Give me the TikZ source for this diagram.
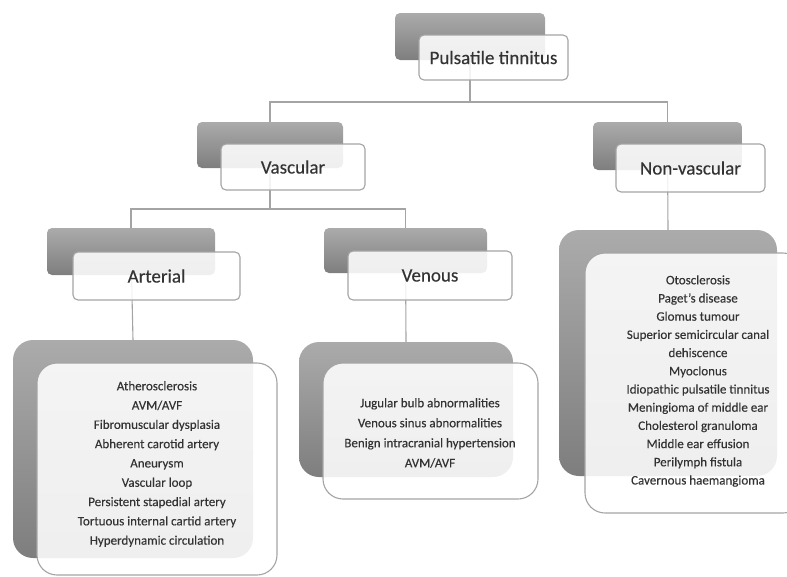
\documentclass[tikz,border=0pt]{standalone}
\usepackage{fontspec}
\setmainfont{Carlito}[FakeBold=0.25]
\usetikzlibrary{backgrounds}
\definecolor{txt}{HTML}{333333}
\definecolor{edge}{HTML}{A4A4A4}
\definecolor{gtop}{HTML}{ABABAB}
\definecolor{gbot}{HTML}{7E7E7E}
\tikzset{
  graybox/.style={rounded corners=5pt, top color=gtop, bottom color=gbot, inner sep=0pt},
  whitebox/.style={rounded corners=5pt, draw=edge, line width=1.1pt, fill=white, fill opacity=0.88, text opacity=1, inner sep=0pt, text=txt, font=\fontsize{19}{22}\selectfont},
  graylist/.style={graybox, rounded corners=20pt},
  whitelist/.style={whitebox, rounded corners=20pt},
  listtext/.style={text=txt, align=center, inner sep=0pt},
  conn/.style={draw=edge, line width=1.1pt},
}
\begin{document}
\begin{tikzpicture}[x=1pt,y=-1pt]
\useasboundingbox (0,0) rectangle (787,576);
% headers
\node[graybox, minimum width=150pt, minimum height=47pt] (ptg) at (470,36.5) {};
\node[whitebox, minimum width=149pt, minimum height=45pt] (ptw) at (493.5,57.5) {Pulsatile tinnitus};
\node[graybox, minimum width=146pt, minimum height=46pt] (vasg) at (270,145) {};
\node[whitebox, minimum width=144pt, minimum height=46pt] (vasw) at (293,167) {Vascular};
\node[graybox, minimum width=149pt, minimum height=48pt] (nvg) at (667.5,146) {};
\node[whitebox, minimum width=149pt, minimum height=48pt] (nvw) at (690.5,168) {Non-vascular};
\node[graybox, minimum width=168pt, minimum height=47pt] (artg) at (131,251.5) {};
\node[whitebox, minimum width=167pt, minimum height=48pt] (artw) at (156.5,276) {Arterial};
\node[graybox, minimum width=163pt, minimum height=45pt] (veng) at (405.5,250.5) {};
\node[whitebox, minimum width=164pt, minimum height=49pt] (venw) at (430,275.5) {Venous};
% lists
\node[graylist, minimum width=240pt, minimum height=218pt] (artlg) at (133,449) {};
\node[whitelist, minimum width=240pt, minimum height=212pt] (artlw) at (157,469) {};
\node[listtext, font=\fontsize{13}{19.3}\selectfont] (artt) at (157,464) {Atherosclerosis\\AVM/AVF\\Fibromuscular dysplasia\\Abherent carotid artery\\Aneurysm\\Vascular loop\\Persistent stapedial artery\\Tortuous internal cartid artery\\Hyperdynamic circulation};
\node[graylist, minimum width=214pt, minimum height=135pt] (venlg) at (406,409.5) {};
\node[whitelist, minimum width=215pt, minimum height=136pt] (venlw) at (430.5,431) {};
\node[listtext, font=\fontsize{13}{20}\selectfont] (vent) at (430,433) {Jugular bulb abnormalities\\Venous sinus abnormalities\\Benign intracranial hypertension\\AVM/AVF};
\node[graylist, minimum width=218pt, minimum height=246pt] (nvlg) at (668,353) {};
\node[whitelist, minimum width=218pt, minimum height=260pt] (nvlw) at (694,383) {};
\node[listtext, font=\fontsize{13}{18.2}\selectfont] (nvt) at (698,381) {Otosclerosis\\Paget’s disease\\Glomus tumour\\Superior semicircular canal\\dehiscence\\Myoclonus\\Idiopathic pulsatile tinnitus\\Meningioma of middle ear\\Cholesterol granuloma\\Middle ear effusion\\Perilymph fistula\\Cavernous haemangioma};
% connectors
\coordinate (j1) at (470,102);
\coordinate (j2) at (270,209);
\begin{scope}[on background layer]
\draw[conn] (ptg.center) -- (j1) -| (vasg.north);
\draw[conn] (j1) -| (nvg.north);
\draw[conn] (vasg.center) -- (j2) -| (artg.north);
\draw[conn] (j2) -| (veng.north);
\draw[conn] (artg.center) -- (artlg.north);
\draw[conn] (veng.center) -- (venlg.north);
\draw[conn] (nvg.center) -- (nvlg.north);
\end{scope}
\end{tikzpicture}
\end{document}
